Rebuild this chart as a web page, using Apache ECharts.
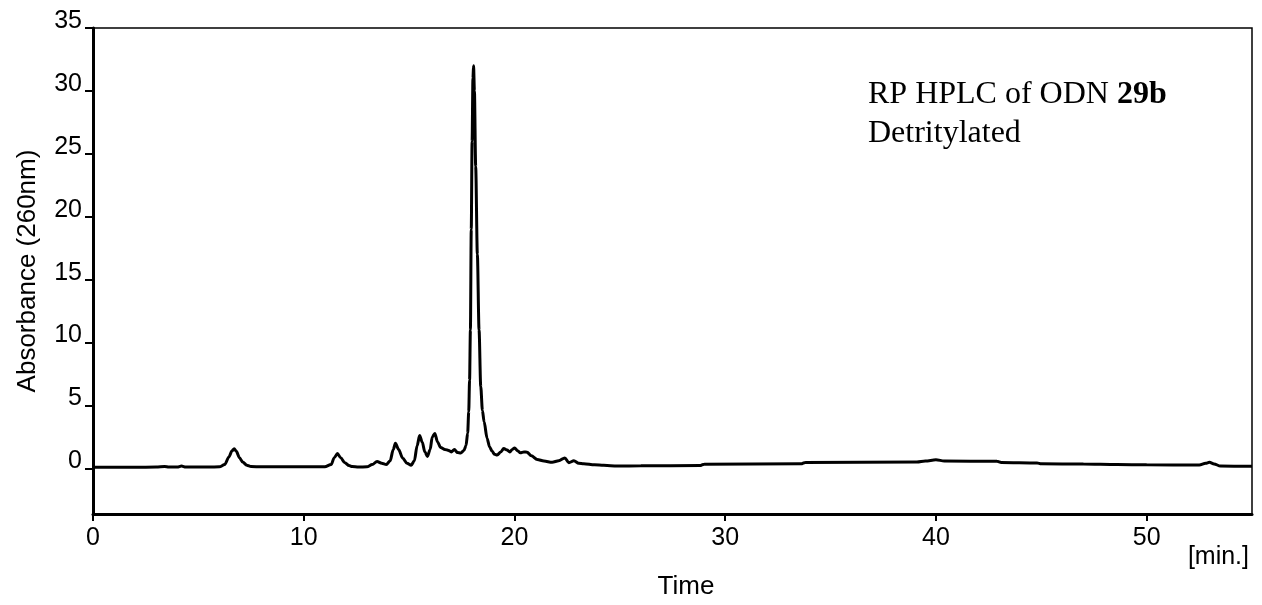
<!DOCTYPE html>
<html>
<head>
<meta charset="utf-8">
<script src="https://cdn.jsdelivr.net/npm/echarts@6/dist/echarts.min.js"></script>
<style>
html,body{margin:0;padding:0;background:#fff;}
#chart{width:1262px;height:605px;}
</style>
</head>
<body>
<div id="chart"></div>
<script>
// Retention time (min)
const time = [0,1,2,3,3.4,3.6,4.0,4.2,4.4,5.0,5.5,6.0,6.25,6.45,6.6,6.7,6.8,6.95,7.1,7.3,7.5,8.0,9,10,11.0,11.3,11.45,11.6,11.75,11.95,12.15,12.3,12.6,13.0,13.25,13.48,13.7,13.92,14.1,14.25,14.35,14.5,14.7,14.9,15.1,15.25,15.38,15.5,15.62,15.75,15.87,16.0,16.1,16.22,16.35,16.5,16.7,16.88,17.0,17.15,17.3,17.45,17.6,17.7,17.78,17.83,17.87,17.91,17.95,17.99,18.03,18.06,18.1,18.16,18.24,18.32,18.4,18.48,18.56,18.7,18.82,18.94,19.05,19.18,19.35,19.49,19.65,19.78,19.9,20.01,20.15,20.28,20.45,20.6,20.8,21.08,21.4,21.79,22.1,22.39,22.58,22.82,23.05,23.29,23.8,24.24,24.88,26,28.8,29,33.6,33.8,39.1,39.5,40.0,40.4,42.9,43.1,44.8,45.0,47,48.6,50.0,52.5,52.8,52.98,53.2,53.5,55];
// Absorbance (260nm)
const absorbance = [0.08,0.08,0.08,0.1,0.15,0.1,0.1,0.18,0.1,0.1,0.1,0.12,0.3,0.9,1.4,1.55,1.35,0.85,0.5,0.25,0.15,0.12,0.12,0.12,0.12,0.3,0.85,1.17,0.85,0.45,0.22,0.14,0.1,0.12,0.3,0.55,0.4,0.3,0.6,1.5,2.0,1.5,0.8,0.4,0.25,0.6,1.8,2.6,2.1,1.3,0.95,1.5,2.5,2.77,2.1,1.65,1.5,1.42,1.3,1.5,1.25,1.22,1.42,1.8,2.8,4.5,7,11,19,26,31,32.0,30,24,17,11,6.5,4.6,3.7,2.4,1.7,1.36,1.12,1.05,1.3,1.57,1.45,1.3,1.5,1.62,1.4,1.23,1.3,1.28,1.0,0.7,0.58,0.48,0.6,0.83,0.45,0.6,0.4,0.37,0.28,0.24,0.18,0.2,0.22,0.33,0.36,0.47,0.5,0.58,0.68,0.58,0.56,0.47,0.43,0.36,0.34,0.3,0.28,0.26,0.4,0.48,0.35,0.18,0.16];
const xTicks = [0,10,20,30,40,50];
const yTicks = [0,5,10,15,20,25,30,35];

const seriesData = time.map((t,i)=>[t, absorbance[i]]);
const sans = 'Liberation Sans, Arial, sans-serif';
const serif = 'Liberation Serif, Times New Roman, serif';

const chart = echarts.init(document.getElementById('chart'), null, {renderer:'canvas'});
chart.setOption({
  animation:false,
  backgroundColor:'#fff',
  grid:{left:93,right:10,top:28,bottom:90,show:true,borderColor:'#000',borderWidth:1.5,backgroundColor:'transparent'},
  xAxis:{
    type:'value',min:0,max:55,
    name:'Time',nameLocation:'middle',nameGap:60,
    nameTextStyle:{fontFamily:sans,fontSize:26,color:'#000',padding:[0,0,0,27]},
    axisLine:{show:true,onZero:false,lineStyle:{color:'#000',width:3}},
    axisTick:{show:true,length:7,lineStyle:{color:'#000',width:2},customValues:xTicks},
    axisLabel:{fontFamily:sans,fontSize:25,color:'#000',margin:12,customValues:xTicks},
    splitLine:{show:false}
  },
  yAxis:{
    type:'value',min:-3.63,max:35,
    name:'Absorbance (260nm)',nameLocation:'middle',nameGap:52,
    nameTextStyle:{fontFamily:sans,fontSize:26,color:'#000'},
    axisLine:{show:true,onZero:false,lineStyle:{color:'#000',width:3}},
    axisTick:{show:true,length:8,lineStyle:{color:'#000',width:2},customValues:yTicks},
    axisLabel:{fontFamily:sans,fontSize:25,color:'#000',margin:11,verticalAlign:'bottom',lineHeight:14,customValues:yTicks},
    splitLine:{show:false}
  },
  series:[{
    type:'line',data:seriesData,showSymbol:false,symbol:'none',
    smooth:0.3,smoothMonotone:'x',
    lineStyle:{color:'#000',width:3},
    clip:true
  }],
  graphic:[
    {type:'text',left:868,top:79,style:{
      text:'{a|RP HPLC of ODN }{b|29b}\n{a|Detritylated}',
      rich:{
        a:{fontFamily:serif,fontSize:32,lineHeight:39,fill:'#000'},
        b:{fontFamily:serif,fontSize:32,lineHeight:39,fontWeight:'bold',fill:'#000'}
      }
    }},
    {type:'text',right:13,top:545,style:{text:'[min.]',fontFamily:sans,fontSize:25,fill:'#000'}}
  ]
});
</script>
</body>
</html>
